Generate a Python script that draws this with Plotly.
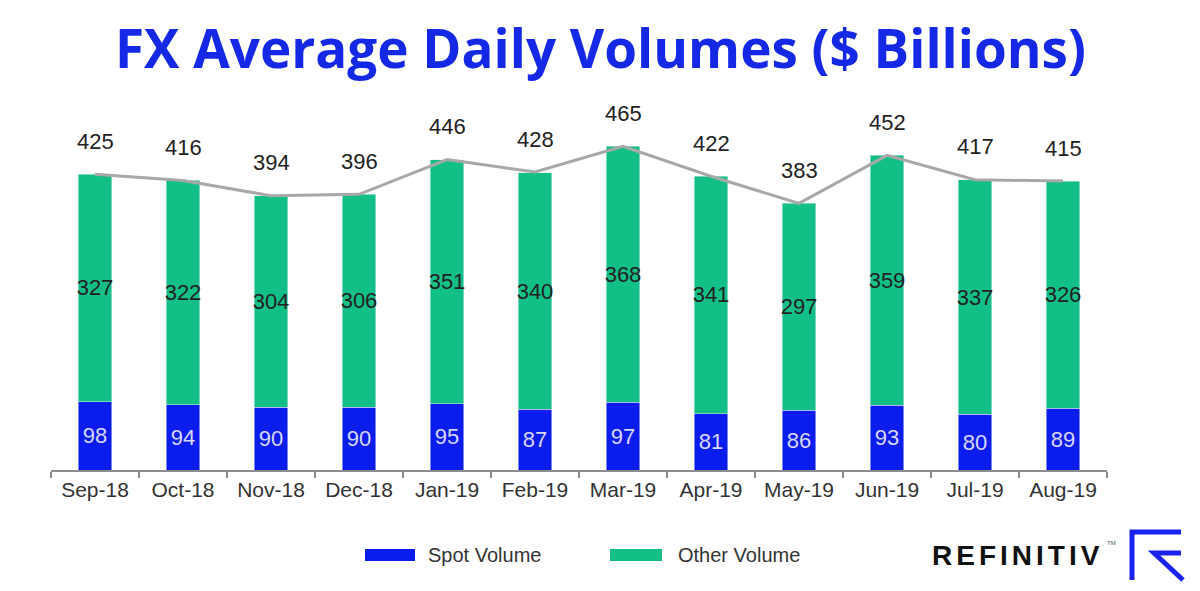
import plotly.graph_objects as go

months = ["Sep-18", "Oct-18", "Nov-18", "Dec-18", "Jan-19", "Feb-19",
          "Mar-19", "Apr-19", "May-19", "Jun-19", "Jul-19", "Aug-19"]
spot = [98, 94, 90, 90, 95, 87, 97, 81, 86, 93, 80, 89]
other = [327, 322, 304, 306, 351, 340, 368, 341, 297, 359, 337, 326]
total = [425, 416, 394, 396, 446, 428, 465, 422, 383, 452, 417, 415]

BLUE = "#0b1cef"
GREEN = "#12c087"
FONT = "Liberation Sans"

W, H = 1200, 591
L, R, T, B = 51, 93, 108, 121
PW, PH = W - L - R, H - T - B


def px(x):
    return (x - L) / PW


def py(y):
    return (H - B - y) / PH


fig = go.Figure()
fig.add_trace(go.Bar(
    x=months, y=spot, name="Spot Volume", marker_color=BLUE,
    text=spot, textposition="inside", insidetextanchor="middle",
    textangle=0, constraintext="none",
    textfont=dict(family=FONT, size=22, color="#d6d6ff"),
    width=0.38, showlegend=False))
fig.add_trace(go.Bar(
    x=months, y=other, name="Other Volume", marker_color=GREEN,
    text=other, textposition="inside", insidetextanchor="middle",
    textangle=0, constraintext="none",
    textfont=dict(family=FONT, size=22, color="#222222"),
    width=0.38, showlegend=False))
fig.add_trace(go.Scatter(
    x=months, y=total, mode="lines", line=dict(color="#a8a8a8", width=3),
    showlegend=False, hoverinfo="skip"))

annotations = []
for m, t in zip(months, total):
    annotations.append(dict(x=m, y=t, text=str(t), showarrow=False,
                            yshift=33, font=dict(family=FONT, size=22, color="#222222")))

# Title
annotations.append(dict(xref="paper", yref="paper", x=px(600), y=py(48),
                        text="<b>FX Average Daily Volumes ($ Billions)</b>",
                        showarrow=False, xanchor="center", yanchor="middle",
                        font=dict(family="Open Sans", size=53, color="#1428e6")))

# Legend texts
annotations.append(dict(xref="paper", yref="paper", x=px(426), y=py(555),
                        text="Spot Volume", showarrow=False, xanchor="left", yanchor="middle",
                        font=dict(family=FONT, size=20, color="#333333")))
annotations.append(dict(xref="paper", yref="paper", x=px(676), y=py(555),
                        text="Other Volume", showarrow=False, xanchor="left", yanchor="middle",
                        font=dict(family=FONT, size=20, color="#333333")))

# Logo text
annotations.append(dict(xref="paper", yref="paper", x=px(930), y=py(555),
                        text="<span style='letter-spacing:4px'><b>REFINITIV</b></span>",
                        showarrow=False, xanchor="left", yanchor="middle",
                        font=dict(family=FONT, size=28, color="#111111")))
annotations.append(dict(xref="paper", yref="paper", x=px(1105), y=py(543),
                        text="TM", showarrow=False, xanchor="left", yanchor="middle",
                        font=dict(family=FONT, size=6, color="#555555")))

shapes = [
    dict(type="rect", xref="paper", yref="paper", x0=px(365), x1=px(415),
         y0=py(561), y1=py(549), fillcolor=BLUE, line=dict(width=0)),
    dict(type="rect", xref="paper", yref="paper", x0=px(610), x1=px(662),
         y0=py(561), y1=py(549), fillcolor=GREEN, line=dict(width=0)),
    # logo mark
    dict(type="path", xref="paper", yref="paper",
         path=f"M {px(1132)},{py(580)} L {px(1132)},{py(532)} L {px(1181)},{py(532)}",
         line=dict(color="#1a22f0", width=5)),
    dict(type="path", xref="paper", yref="paper",
         path=f"M {px(1181)},{py(553)} L {px(1154)},{py(553)} L {px(1183)},{py(580)}",
         line=dict(color="#1a22f0", width=5)),
]

fig.update_layout(
    width=W, height=H, barmode="stack",
    margin=dict(l=L, r=R, t=T, b=B),
    paper_bgcolor="white", plot_bgcolor="white",
    annotations=annotations, shapes=shapes, showlegend=False,
    xaxis=dict(showline=True, linecolor="#8c8c8c", linewidth=2,
               ticks="outside", tickson="boundaries", ticklen=6, tickcolor="#8c8c8c",
               tickwidth=2,
               tickfont=dict(family=FONT, size=21, color="#333333"),
               showgrid=False, zeroline=False),
    yaxis=dict(range=[0, 520], visible=False, showgrid=False, zeroline=False),
    bargap=0.62,
)

fig.write_html("out.html")
